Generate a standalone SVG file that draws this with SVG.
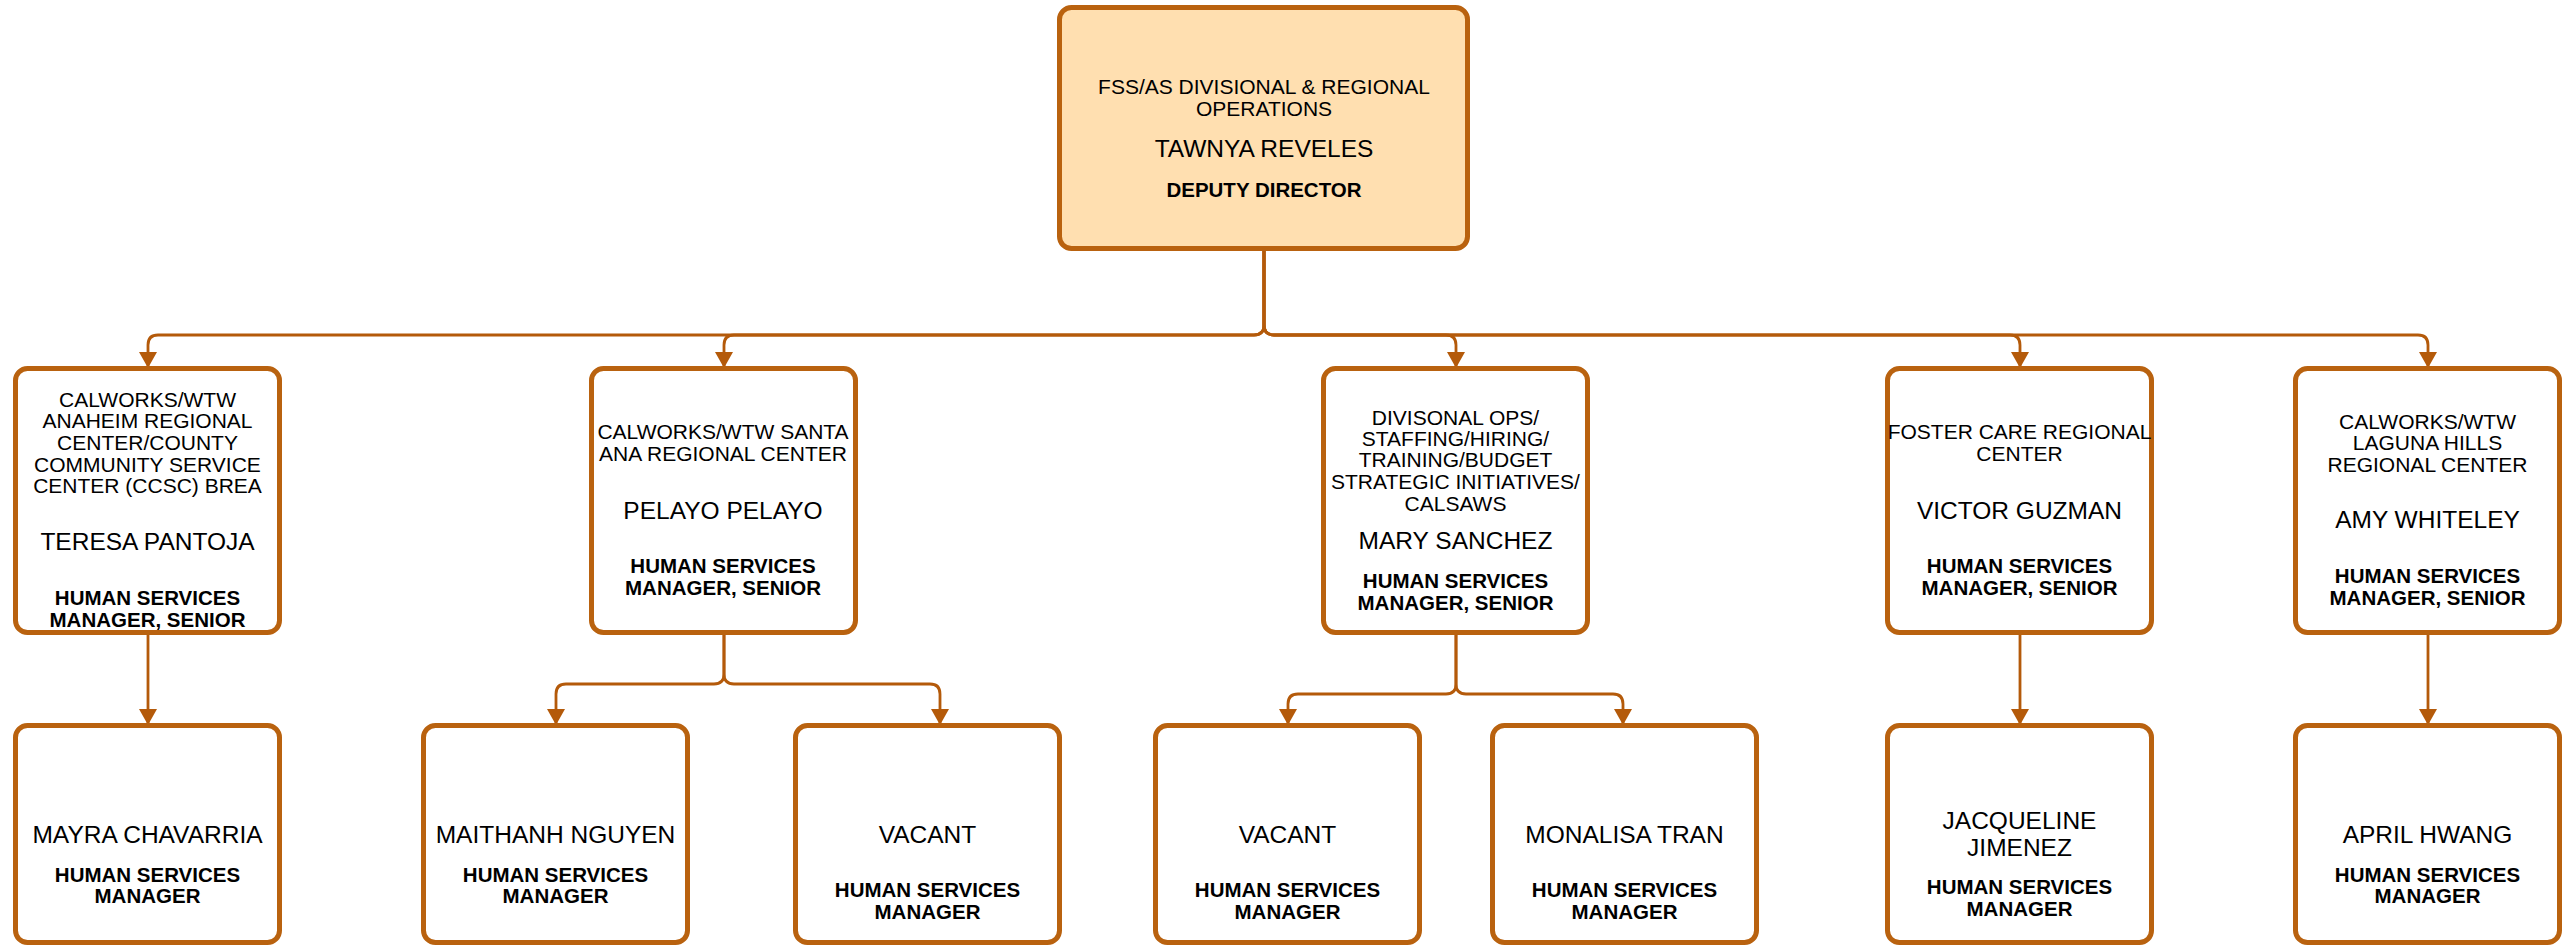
<svg xmlns="http://www.w3.org/2000/svg" width="2567" height="947" viewBox="0 0 2567 947">
<style>
.box{fill:#ffffff;stroke:#b9620f;stroke-width:5}
.top{fill:#ffdfb0}
.con{fill:none;stroke:#b45a0a;stroke-width:2.8}
text{font-family:"Liberation Sans",Arial,sans-serif;fill:#000;text-anchor:middle}
.s{font-size:21px}
.n{font-size:24.5px}
.b{font-size:20.5px;font-weight:bold}
</style>
<defs>
<marker id="arr" viewBox="0 0 16 18" refX="16" refY="9" markerWidth="16" markerHeight="18" markerUnits="userSpaceOnUse" orient="auto">
<path d="M0,0 L16,9 L0,18 Z" fill="#b45a0a"/>
</marker>
</defs>
<rect width="2567" height="947" fill="#ffffff"/>
<g id="connectors">
<path class="con" marker-end="url(#arr)" d="M1264 250 V325 Q1264 335 1254 335 H158 Q148 335 148 345 V368"/>
<path class="con" marker-end="url(#arr)" d="M1264 250 V325 Q1264 335 1254 335 H734 Q724 335 724 345 V368"/>
<path class="con" marker-end="url(#arr)" d="M1264 250 V325 Q1264 335 1274 335 H1446 Q1456 335 1456 345 V368"/>
<path class="con" marker-end="url(#arr)" d="M1264 250 V325 Q1264 335 1274 335 H2010 Q2020 335 2020 345 V368"/>
<path class="con" marker-end="url(#arr)" d="M1264 250 V325 Q1264 335 1274 335 H2418 Q2428 335 2428 345 V368"/>
<path class="con" marker-end="url(#arr)" d="M148 634 V725"/>
<path class="con" marker-end="url(#arr)" d="M724 634 V674 Q724 684 714 684 H566 Q556 684 556 694 V725"/>
<path class="con" marker-end="url(#arr)" d="M724 634 V674 Q724 684 734 684 H930 Q940 684 940 694 V725"/>
<path class="con" marker-end="url(#arr)" d="M1456 634 V684 Q1456 694 1446 694 H1298 Q1288 694 1288 704 V725"/>
<path class="con" marker-end="url(#arr)" d="M1456 634 V684 Q1456 694 1466 694 H1613 Q1623 694 1623 704 V725"/>
<path class="con" marker-end="url(#arr)" d="M2020 634 V725"/>
<path class="con" marker-end="url(#arr)" d="M2428 634 V725"/>
</g>
<g id="n-deputy">
<rect class="box top" x="1059.5" y="7.5" width="408" height="241" rx="12"/>
<text class="s" x="1264" y="94">FSS/AS DIVISIONAL &amp; REGIONAL</text>
<text class="s" x="1264" y="116">OPERATIONS</text>
<text class="n" x="1264" y="157">TAWNYA REVELES</text>
<text class="b" x="1264" y="197">DEPUTY DIRECTOR</text>
</g>
<g id="n-pantoja">
<rect class="box" x="15.5" y="368.5" width="264" height="264" rx="12"/>
<text class="s" x="147.5" y="407">CALWORKS/WTW</text>
<text class="s" x="147.5" y="428">ANAHEIM REGIONAL</text>
<text class="s" x="147.5" y="450">CENTER/COUNTY</text>
<text class="s" x="147.5" y="472">COMMUNITY SERVICE</text>
<text class="s" x="147.5" y="493">CENTER (CCSC) BREA</text>
<text class="n" x="147.5" y="550">TERESA PANTOJA</text>
<text class="b" x="147.5" y="605">HUMAN SERVICES</text>
<text class="b" x="147.5" y="627">MANAGER, SENIOR</text>
</g>
<g id="n-pelayo">
<rect class="box" x="591.5" y="368.5" width="264" height="264" rx="12"/>
<text class="s" x="723" y="439">CALWORKS/WTW SANTA</text>
<text class="s" x="723" y="461">ANA REGIONAL CENTER</text>
<text class="n" x="723" y="519">PELAYO PELAYO</text>
<text class="b" x="723" y="573">HUMAN SERVICES</text>
<text class="b" x="723" y="595">MANAGER, SENIOR</text>
</g>
<g id="n-sanchez">
<rect class="box" x="1323.5" y="368.5" width="264" height="264" rx="12"/>
<text class="s" x="1455.5" y="425">DIVISONAL OPS/</text>
<text class="s" x="1455.5" y="446">STAFFING/HIRING/</text>
<text class="s" x="1455.5" y="467">TRAINING/BUDGET</text>
<text class="s" x="1455.5" y="489">STRATEGIC INITIATIVES/</text>
<text class="s" x="1455.5" y="511">CALSAWS</text>
<text class="n" x="1455.5" y="549">MARY SANCHEZ</text>
<text class="b" x="1455.5" y="588">HUMAN SERVICES</text>
<text class="b" x="1455.5" y="610">MANAGER, SENIOR</text>
</g>
<g id="n-guzman">
<rect class="box" x="1887.5" y="368.5" width="264" height="264" rx="12"/>
<text class="s" x="2019.5" y="439">FOSTER CARE REGIONAL</text>
<text class="s" x="2019.5" y="461">CENTER</text>
<text class="n" x="2019.5" y="519">VICTOR GUZMAN</text>
<text class="b" x="2019.5" y="573">HUMAN SERVICES</text>
<text class="b" x="2019.5" y="595">MANAGER, SENIOR</text>
</g>
<g id="n-whiteley">
<rect class="box" x="2295.5" y="368.5" width="264" height="264" rx="12"/>
<text class="s" x="2427.5" y="429">CALWORKS/WTW</text>
<text class="s" x="2427.5" y="450">LAGUNA HILLS</text>
<text class="s" x="2427.5" y="472">REGIONAL CENTER</text>
<text class="n" x="2427.5" y="528">AMY WHITELEY</text>
<text class="b" x="2427.5" y="583">HUMAN SERVICES</text>
<text class="b" x="2427.5" y="605">MANAGER, SENIOR</text>
</g>
<g id="n-chavarria">
<rect class="box" x="15.5" y="725.5" width="264" height="217" rx="12"/>
<text class="n" x="147.5" y="843">MAYRA CHAVARRIA</text>
<text class="b" x="147.5" y="882">HUMAN SERVICES</text>
<text class="b" x="147.5" y="903">MANAGER</text>
</g>
<g id="n-nguyen">
<rect class="box" x="423.5" y="725.5" width="264" height="217" rx="12"/>
<text class="n" x="555.5" y="843">MAITHANH NGUYEN</text>
<text class="b" x="555.5" y="882">HUMAN SERVICES</text>
<text class="b" x="555.5" y="903">MANAGER</text>
</g>
<g id="n-vacant1">
<rect class="box" x="795.5" y="725.5" width="264" height="217" rx="12"/>
<text class="n" x="927.5" y="843">VACANT</text>
<text class="b" x="927.5" y="897">HUMAN SERVICES</text>
<text class="b" x="927.5" y="919">MANAGER</text>
</g>
<g id="n-vacant2">
<rect class="box" x="1155.5" y="725.5" width="264" height="217" rx="12"/>
<text class="n" x="1287.5" y="843">VACANT</text>
<text class="b" x="1287.5" y="897">HUMAN SERVICES</text>
<text class="b" x="1287.5" y="919">MANAGER</text>
</g>
<g id="n-tran">
<rect class="box" x="1492.5" y="725.5" width="264" height="217" rx="12"/>
<text class="n" x="1624.5" y="843">MONALISA TRAN</text>
<text class="b" x="1624.5" y="897">HUMAN SERVICES</text>
<text class="b" x="1624.5" y="919">MANAGER</text>
</g>
<g id="n-jimenez">
<rect class="box" x="1887.5" y="725.5" width="264" height="217" rx="12"/>
<text class="n" x="2019.5" y="829">JACQUELINE</text>
<text class="n" x="2019.5" y="856">JIMENEZ</text>
<text class="b" x="2019.5" y="894">HUMAN SERVICES</text>
<text class="b" x="2019.5" y="916">MANAGER</text>
</g>
<g id="n-hwang">
<rect class="box" x="2295.5" y="725.5" width="264" height="217" rx="12"/>
<text class="n" x="2427.5" y="843">APRIL HWANG</text>
<text class="b" x="2427.5" y="882">HUMAN SERVICES</text>
<text class="b" x="2427.5" y="903">MANAGER</text>
</g>
</svg>
